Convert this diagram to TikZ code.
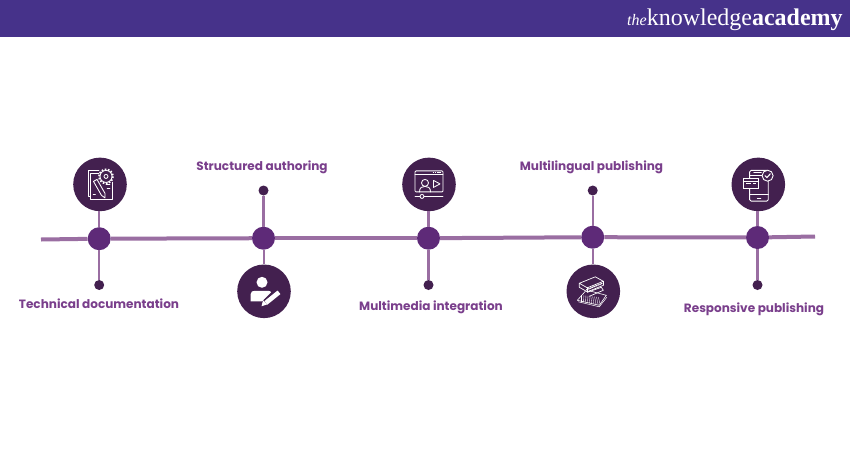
\documentclass[tikz,border=0pt]{standalone}
\usepackage{fontspec}
\setmainfont{Poppins}
\newfontfamily\logofont{Liberation Serif}
\definecolor{headbg}{HTML}{46328A}
\definecolor{linepurple}{HTML}{9A6EA2}
\definecolor{hubpurple}{HTML}{5E2A78}
\definecolor{darkpurple}{HTML}{43204F}
\definecolor{labelpurple}{HTML}{7A3F8C}
\tikzset{
  hub/.style={circle,fill=hubpurple,minimum size=23pt,inner sep=0pt},
  enddot/.style={circle,fill=darkpurple,minimum size=10pt,inner sep=0pt},
  iconcircle/.style={circle,fill=darkpurple,minimum size=53.6pt,inner sep=0pt},
  mainline/.style={linepurple,line width=4pt},
  stem/.style={linepurple,line width=2.2pt},
  steplabel/.style={text=labelpurple,font=\fontsize{12.05}{14}\selectfont\bfseries,inner sep=0pt,anchor=base},
  ic/.style={white,line width=0.85pt,line join=round,line cap=round},
  icthin/.style={white,line width=0.5pt,line cap=round},
}
\begin{document}
\begin{tikzpicture}[x=1pt,y=-1pt]
\useasboundingbox (0,0) rectangle (850,450);
\fill[white] (0,0) rectangle (850,450);
\fill[headbg] (0,0) rectangle (850,36.5);
\node[anchor=base west,inner sep=0pt,text=white] (logo) at (627,25.5)
  {\logofont{\fontsize{16}{16}\selectfont\itshape the}\fontsize{24}{24}\selectfont knowledge\textbf{academy}};

\coordinate (lineStart) at (41,239.5);
\coordinate (lineEnd) at (815,236.5);
\node[hub] (h1) at (99.2,238.7) {};
\node[hub] (h2) at (263.5,238.2) {};
\node[hub] (h3) at (428.5,238.2) {};
\node[hub] (h4) at (592.7,237.2) {};
\node[hub] (h5) at (757.5,237.5) {};

\node[iconcircle] (i1) at (100,184.4) {};
\node[iconcircle] (i2) at (264,291.3) {};
\node[iconcircle] (i3) at (429,184.4) {};
\node[iconcircle] (i4) at (593.3,291.3) {};
\node[iconcircle] (i5) at (758.3,184.4) {};

\node[enddot] (d1) at (99.2,285) {};
\node[enddot] (d2) at (263.5,190.5) {};
\node[enddot] (d3) at (428.5,285) {};
\node[enddot] (d4) at (592.7,190.5) {};
\node[enddot] (d5) at (757.5,285) {};

\draw[mainline] (lineStart) -- (h1);
\draw[mainline] (h1) -- (h2);
\draw[mainline] (h2) -- (h3);
\draw[mainline] (h3) -- (h4);
\draw[mainline] (h4) -- (h5);
\draw[mainline] (h5) -- (lineEnd);
\foreach \a/\b in {d1/h1,d2/h2,d3/h3,d4/h4,d5/h5}
  \draw[stem] (\a) -- (\b);
\foreach \a/\b in {i1/h1,i3/h3,i5/h5}
  \draw[stem] (\b.north) -- (\a.south -| \b.north);
\foreach \a/\b in {i2/h2,i4/h4}
  \draw[stem] (\a.north) -- (\b.south -| \a.north);

\node[steplabel] (t1) at (99,308) {Technical documentation};
\node[steplabel] (t2) at (262,170.5) {Structured authoring};
\node[steplabel] (t3) at (431,310) {Multimedia integration};
\node[steplabel] (t4) at (591.5,170.5) {Multilingual publishing};
\node[steplabel] (t5) at (754,312) {Responsive publishing};

% icon 1: document, gear, pencil
\begin{scope}[shift={(i1.center)}]
  \draw[ic] (-1,-14) -- (-12,-14) -- (-12,12) -- (-9.5,12);
  \draw[ic] (-9.5,-10.7) -- (-9.5,15) -- (12,15) -- (12,-2);
  \draw[ic] (-9.5,-10.7) -- (-1,-10.7);
  \filldraw[draw=white,fill=darkpurple,line width=0.85pt] (6,-8) circle (6);
  \draw[white,line width=1.8pt,dash pattern=on 1.6pt off 1.55pt] (6,-8) circle (7);
  \draw[ic] (6,-8) circle (2);
  \filldraw[draw=white,fill=darkpurple,line width=0.85pt,line join=round] (-6.5,-3) -- (-3,-5) -- (5,9) -- (5,13.5) -- (1.5,11) -- cycle;
  \draw[icthin] (-7,10) -- (-4.5,10);
  \draw[icthin] (6,0) -- (10,0);
  \draw[icthin] (7,4) -- (10,4);
\end{scope}

% icon 2: person with pen
\begin{scope}[shift={(i2.center)}]
  \fill[white] (-2,-9) circle (5.5);
  \fill[white] (-13.5,10) -- (-13.5,3) .. controls (-13.5,0) and (-11,-0.5) .. (-9,-0.5)
     -- (4,-0.5) .. controls (6,-0.5) and (7,0.5) .. (7,1) -- (-1,9) -- (-1,10) -- cycle;
  \draw[darkpurple,line width=7pt] (-1,14) -- (15,1);
  \draw[white,line width=4.6pt] (2,11.5) -- (15,1);
  \fill[white] (-2.5,15) -- (-1,9) -- (3.5,13) -- cycle;
\end{scope}

% icon 3: video window
\begin{scope}[shift={(i3.center)}]
  \draw[ic,rounded corners=1pt] (-14,-13.5) rectangle (14,7.5);
  \draw[ic] (-14,-9.5) -- (14,-9.5);
  \draw[white,line width=1pt,dash pattern=on 1.4pt off 0.9pt] (3.5,-11.5) -- (12,-11.5);
  \draw[ic] (-4,-1.5) circle (3.5);
  \draw[ic] (-9.5,7.5) .. controls (-9.5,3) and (-7,2) .. (-4,2) .. controls (-1,2) and (1.5,3) .. (1.5,7.5);
  \draw[ic] (4.5,-4) -- (11,-0.5) -- (4.5,3) -- cycle;
  \draw[ic] (-14,12) -- (-9,12) (-5,12) -- (14,12);
  \draw[ic] (-7,12) circle (2);
\end{scope}

% icon 4: books
\begin{scope}[shift={(i4.center)}]
  \draw[icthin,line width=0.7pt,line join=round] (-14,-8) -- (2,-14.5) -- (10,-10) -- (-6,-3.5) -- cycle;
  \draw[icthin,line width=0.7pt,line join=round] (-14,-8) -- (-14,-4) -- (-6,0.5) -- (10,-6);
  \draw[icthin,line width=0.7pt] (-6,-3.5) -- (-6,0.5) (10,-10) -- (10,-6);
  \draw[white,line width=1.2pt,dash pattern=on 1.5pt off 0.5pt] (-7,-1.5) -- (9,-8);
  \draw[icthin,line width=0.7pt,line join=round] (-6,1) -- (8,-4) -- (10,-1) -- (-4,5);
  \draw[icthin,line width=0.6pt] (-16,9) -- (-8,0) (-16,9) -- (6,14) -- (13,4) -- (-4,-0.5);
  \foreach \k in {0,1,...,9}
    \draw[icthin,line width=0.35pt] ({-12+\k*1.9},{4+\k*0.2}) -- ({-12+\k*2.1},{10.5+\k*0.35});
  \draw[icthin] (-15,10.5) -- (6,15.5) -- (13.5,6);
\end{scope}

% icon 5: phone, card, check
\begin{scope}[shift={(i5.center)}]
  \draw[ic,rounded corners=1.5pt] (-8.7,-14) rectangle (10,16.7);
  \draw[ic] (-4.5,-11.7) -- (3,-11.7);
  \draw[ic] (-8.7,-8.5) -- (4,-8.5);
  \draw[ic] (-8.7,10.5) -- (10,10.5);
  \draw[ic] (-1,14) -- (2.5,14);
  \filldraw[draw=white,fill=darkpurple,line width=0.8pt] (-15,-5.7) rectangle (0,4.3);
  \draw[ic] (-15,-3) -- (0,-3);
  \draw[white,line width=1pt] (-12.5,-0.5) -- (-7.5,-0.5) (-5.5,-0.5) -- (-2,-0.5);
  \filldraw[draw=white,fill=darkpurple,line width=0.9pt] (9.3,-8.7) circle (5.5);
  \draw[white,line width=1.1pt,line cap=round,line join=round] (6.8,-8.7) -- (8.6,-6.8) -- (12,-10.6);
\end{scope}
\end{tikzpicture}
\end{document}
